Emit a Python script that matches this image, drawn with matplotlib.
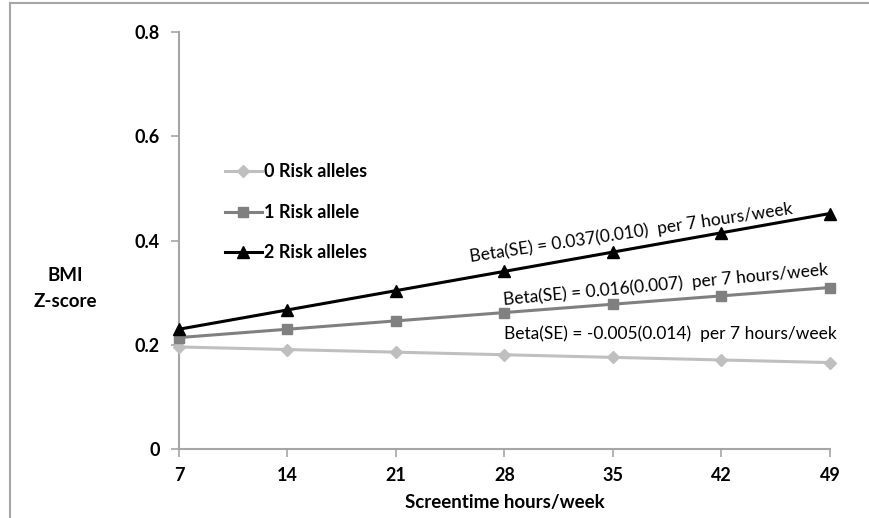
import matplotlib
matplotlib.use("Agg")
import matplotlib.pyplot as plt
from matplotlib.lines import Line2D

plt.rcParams['font.family'] = ['Lato', 'DejaVu Sans']

# data
hours = [7, 14, 21, 28, 35, 42, 49]
risk0 = [0.196, 0.191, 0.186, 0.181, 0.176, 0.171, 0.166]
risk1 = [0.214, 0.230, 0.246, 0.262, 0.278, 0.294, 0.310]
risk2 = [0.230, 0.267, 0.304, 0.341, 0.378, 0.415, 0.452]
labels = ['0 Risk alleles', '1 Risk allele', '2 Risk alleles']
betas = ['Beta(SE) = -0.005(0.014)  per 7 hours/week',
         'Beta(SE) = 0.016(0.007)  per 7 hours/week',
         'Beta(SE) = 0.037(0.010)  per 7 hours/week']

spine_col = '#A6A6A6'

fig = plt.figure(figsize=(8.69, 5.18), dpi=100)
ax = fig.add_axes([0.206, 0.133, 0.749, 0.805])

# frame around the panel (only left and top visible)
fig.add_artist(Line2D([0.0115, 0.0115], [0, 0.994], transform=fig.transFigure,
                      color=spine_col, lw=1.5))
fig.add_artist(Line2D([0.0115, 1.0], [0.994, 0.994], transform=fig.transFigure,
                      color=spine_col, lw=1.5))

ax.plot(hours, risk0, color='#BFBFBF', lw=2.2, marker='D', ms=6.5,
        label=labels[0], clip_on=False, zorder=3)
ax.plot(hours, risk1, color='#808080', lw=2.2, marker='s', ms=7.5,
        label=labels[1], clip_on=False, zorder=4)
ax.plot(hours, risk2, color='black', lw=2.2, marker='^', ms=8.5,
        label=labels[2], clip_on=False, zorder=5)

ax.set_xlim(7, 49)
ax.set_ylim(0, 0.8)
ax.set_xticks(hours)
ax.set_xticklabels([str(h) for h in hours])
ax.set_yticks([0, 0.2, 0.4, 0.6, 0.8])
ax.set_yticklabels(['0', '0.2', '0.4', '0.6', '0.8'])

for s in ['top', 'right']:
    ax.spines[s].set_visible(False)
for s in ['left', 'bottom']:
    ax.spines[s].set_color(spine_col)
    ax.spines[s].set_linewidth(1.5)
ax.tick_params(axis='both', direction='out', length=6, width=1.2,
               color=spine_col, labelsize=13)
ax.tick_params(axis='y', pad=8)
ax.tick_params(axis='x', pad=7)
for t in ax.get_xticklabels() + ax.get_yticklabels():
    t.set_fontweight('bold')

ax.set_xlabel('Screentime hours/week', fontsize=13.5, fontweight='bold', labelpad=7)
ax.text(-0.175, 0.385, 'BMI\nZ-score', transform=ax.transAxes, ha='center',
        va='center', fontsize=13.5, fontweight='bold', linespacing=1.7)

# slope annotations
ax.text(38.7, 0.222, betas[0], ha='center', va='center', fontsize=12.5, rotation=0)
ax.text(38.4, 0.315, betas[1], ha='center', va='center', fontsize=12.5, rotation=5.3)
ax.text(36.2, 0.416, betas[2], ha='center', va='center', fontsize=12.5, rotation=8.5)

leg = ax.legend(loc='upper left', bbox_to_anchor=(0.07, 0.685), frameon=False,
                borderaxespad=0, borderpad=0, handlelength=2.05,
                handletextpad=0.15, labelspacing=1.3,
                prop={'size': 13, 'weight': 'bold'})

fig.savefig('out.png', dpi=100)
